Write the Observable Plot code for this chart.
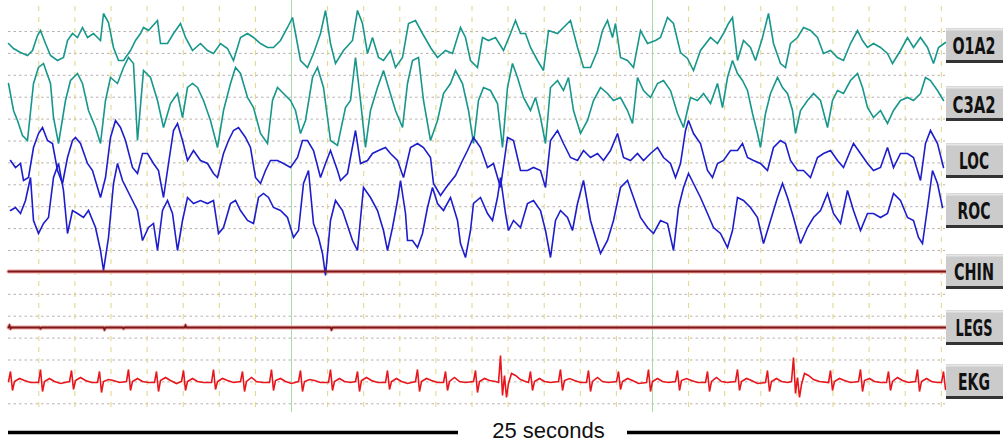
<!DOCTYPE html>
<html><head><meta charset="utf-8">
<script src="https://cdn.jsdelivr.net/npm/d3@7"></script>
<script src="https://cdn.jsdelivr.net/npm/@observablehq/plot@0.6"></script>
<style>body{margin:0;background:#fff}</style>
</head><body><div id="chart"></div>
<script>
// Channel names (top to bottom)
const channels = ["O1A2","C3A2","LOC","ROC","CHIN","LEGS","EKG"];
// Each trace: [sample index, amplitude] (negative = upward, EEG convention)
const o1a2 = [[0,-2],[5,3],[12,7],[19,10],[24,5],[29,-10],[32,-15],[37,-2],[42,10],[49,15],[55,12],[59,-5],[64,-12],[69,-8],[74,-18],[79,-8],[85,-12],[92,-5],[95,-32],[100,-23],[105,2],[110,15],[115,15],[122,5],[127,-5],[132,-12],[135,-18],[140,-15],[149,-25],[152,-2],[159,-2],[165,-12],[172,-22],[177,-8],[184,5],[192,-2],[199,5],[205,8],[212,-2],[219,3],[225,15],[232,-8],[239,-12],[245,-8],[252,-2],[259,2],[265,2],[272,-5],[279,-18],[284,-28],[287,-12],[292,15],[299,22],[305,8],[312,-12],[317,-35],[322,-2],[327,18],[335,5],[344,-5],[349,-35],[354,-22],[359,8],[364,-8],[370,12],[375,15],[382,5],[387,22],[394,12],[400,-22],[407,-25],[414,-12],[422,2],[429,12],[437,5],[444,8],[452,-18],[457,-8],[462,15],[469,22],[474,-8],[480,-5],[487,-8],[495,5],[502,-12],[507,-25],[512,-12],[517,-12],[522,2],[529,15],[535,25],[540,-15],[549,-12],[555,-18],[562,-25],[569,2],[575,22],[582,22],[589,5],[594,-15],[599,-25],[604,-8],[607,-22],[612,12],[619,15],[625,22],[632,-15],[639,-2],[647,-5],[652,-8],[659,-28],[665,-22],[672,7],[679,13],[685,25],[692,5],[702,-8],[709,-2],[715,-12],[720,-22],[724,-28],[729,15],[735,-5],[742,2],[747,15],[754,-8],[760,-32],[765,-2],[772,18],[777,22],[782,-2],[789,-8],[795,-18],[802,-15],[809,-8],[815,8],[822,5],[829,12],[835,15],[842,-2],[849,-15],[854,-5],[859,2],[865,-2],[872,2],[879,8],[884,18],[892,5],[899,-8],[905,2],[912,-8],[919,2],[925,18],[930,2],[937,-3]];
const c3a2 = [[0,-20],[5,7],[9,17],[14,32],[19,37],[25,-20],[30,-36],[35,-40],[42,-20],[45,14],[50,40],[57,-3],[62,-23],[69,-30],[74,-20],[80,7],[87,24],[92,40],[97,-3],[102,-26],[109,-20],[115,-36],[120,-46],[125,-40],[129,37],[135,-33],[142,-26],[149,-3],[155,24],[162,0],[169,-10],[174,14],[179,-16],[184,-20],[189,-16],[195,-3],[202,17],[209,44],[215,7],[222,-20],[227,-36],[232,-30],[239,-6],[245,4],[252,30],[259,40],[264,-3],[269,-16],[275,-10],[282,-3],[287,7],[292,30],[297,17],[304,-26],[309,-36],[315,-16],[322,37],[329,42],[337,4],[342,-3],[347,-46],[352,-3],[357,44],[362,7],[369,-16],[375,-33],[380,-16],[387,7],[394,24],[399,-20],[404,-43],[410,-46],[415,-3],[422,37],[429,17],[435,-10],[442,-20],[447,-33],[454,-20],[460,7],[465,40],[470,-3],[475,-16],[482,-13],[489,0],[494,44],[499,-16],[504,-40],[509,-26],[515,-6],[522,7],[527,-6],[532,14],[537,40],[542,-16],[549,-23],[555,-13],[560,-26],[565,7],[572,30],[579,17],[585,-3],[592,-16],[599,-10],[605,-3],[612,-6],[619,7],[624,20],[629,-26],[635,-13],[642,-6],[649,-20],[655,-23],[662,-13],[669,10],[675,24],[680,2],[682,-6],[689,-3],[695,-10],[702,0],[709,-20],[714,4],[719,-26],[724,-43],[729,-30],[734,-23],[739,-13],[744,10],[749,30],[752,44],[757,10],[762,-10],[769,-26],[774,-16],[779,-10],[784,7],[787,30],[792,7],[799,-3],[805,-10],[812,-3],[819,24],[824,-3],[829,-13],[835,-10],[842,-23],[849,-30],[854,-16],[859,4],[865,14],[872,7],[879,20],[885,7],[892,-3],[899,-6],[905,-3],[912,-10],[917,-26],[922,-23],[929,-13],[935,-3]];
const loc = [[2,0],[7,7],[12,3],[15,20],[20,17],[25,-13],[30,-27],[34,-33],[39,-20],[44,-17],[49,10],[54,23],[59,-3],[64,-20],[67,-23],[72,-17],[79,3],[84,10],[89,27],[92,37],[97,17],[102,-23],[107,-40],[112,-33],[117,-20],[124,7],[129,13],[134,-7],[139,-7],[145,3],[150,10],[155,37],[160,3],[165,-30],[169,-37],[174,-20],[179,0],[185,-10],[192,0],[199,3],[205,13],[209,17],[215,-7],[220,-20],[225,-30],[230,-33],[237,-23],[242,-13],[247,17],[252,23],[257,10],[262,0],[269,0],[275,3],[282,7],[289,-3],[294,-20],[299,-20],[305,-10],[312,17],[317,3],[322,-10],[329,10],[332,20],[339,13],[347,-30],[352,3],[359,0],[364,-7],[370,-10],[377,-13],[382,-7],[389,0],[395,17],[402,-13],[409,-17],[415,-13],[422,-3],[425,23],[432,35],[439,25],[447,15],[454,0],[459,-10],[465,-23],[472,-13],[479,7],[485,3],[492,27],[499,-23],[505,-20],[512,10],[519,10],[525,7],[532,10],[537,27],[542,-20],[549,-30],[555,-17],[562,-3],[569,0],[575,-10],[582,-3],[589,-7],[595,0],[602,-10],[609,-27],[615,-3],[622,0],[629,-7],[635,0],[642,-7],[649,-13],[655,-3],[662,3],[667,17],[672,3],[677,-30],[680,-40],[685,-27],[692,-17],[699,10],[704,17],[709,3],[715,0],[722,-10],[729,-10],[734,-17],[739,-3],[745,0],[752,3],[759,10],[765,-13],[772,-20],[777,-17],[782,0],[789,10],[795,10],[802,17],[809,-3],[815,-7],[822,-10],[829,0],[835,7],[842,-10],[845,-17],[852,-7],[859,3],[865,10],[872,7],[879,-13],[885,7],[892,-7],[899,-7],[905,-3],[912,20],[917,-17],[922,-30],[929,-17],[935,7]];
const roc = [[2,0],[7,-3],[12,3],[17,-10],[22,-33],[25,10],[30,23],[35,13],[40,7],[45,-33],[50,-47],[55,-20],[59,23],[64,0],[69,3],[75,7],[80,0],[87,17],[92,40],[95,60],[100,27],[105,-27],[109,-47],[114,-30],[119,-20],[124,-10],[129,0],[134,30],[140,17],[145,13],[149,40],[154,0],[159,-10],[164,3],[169,40],[174,10],[179,-13],[185,-7],[192,-10],[199,-7],[205,-10],[210,23],[215,17],[222,-7],[227,-10],[232,0],[239,10],[245,13],[250,-13],[255,-17],[260,-13],[265,-3],[272,0],[279,7],[285,27],[290,20],[295,-27],[300,-40],[305,13],[310,27],[314,43],[317,65],[322,10],[327,-10],[334,0],[339,15],[344,30],[349,40],[355,-23],[362,-13],[369,0],[375,20],[379,40],[384,17],[389,-10],[392,-30],[397,3],[399,30],[404,30],[409,37],[414,23],[419,-3],[424,-23],[429,-7],[435,0],[442,-13],[449,10],[452,33],[457,47],[462,20],[465,-7],[472,-13],[479,3],[484,10],[489,-13],[492,-33],[497,3],[500,20],[505,10],[512,17],[519,-7],[525,-10],[532,0],[537,20],[542,47],[547,10],[552,0],[559,7],[564,20],[569,-7],[575,-30],[582,10],[587,27],[592,43],[599,30],[605,10],[612,-23],[619,-30],[625,-13],[632,7],[639,17],[645,23],[652,10],[659,13],[665,40],[670,-3],[675,-23],[680,-37],[685,-27],[692,-13],[699,3],[705,17],[712,23],[719,37],[724,20],[729,-13],[735,-10],[742,-3],[749,7],[755,33],[762,10],[769,-13],[774,-27],[779,-13],[785,7],[792,33],[799,17],[805,7],[812,0],[819,-17],[825,3],[832,13],[839,-20],[845,0],[852,20],[859,3],[865,3],[872,7],[879,3],[885,-17],[892,-10],[899,7],[905,10],[910,27],[914,33],[919,-3],[924,-40],[929,-27],[934,-3]];
const chin = [[0,0],[300,0],[600,0],[937,0]];
const legs = [[0,0],[1,-2],[2,1],[3,0],[31,0],[32,1],[33,0],[95,0],[96,2],[97,0],[114,0],[115,1],[116,0],[176,0],[177,-2],[178,0],[322,0],[323,2],[324,0],[937,0]];
const ekg = [[0,0],[2,-10],[4,9],[6,0],[11,-3],[16,-1],[22,1],[30,1],[32,-12],[34,10],[36,0],[41,-3],[46,0],[52,2],[61,0],[63,-11],[65,8],[67,-1],[72,-4],[77,-1],[83,1],[89,1],[91,-10],[93,11],[95,0],[100,-2],[105,-1],[111,1],[118,0],[120,-12],[122,9],[124,0],[129,-3],[134,0],[140,1],[146,1],[148,-10],[150,10],[152,-1],[157,-4],[162,-1],[168,2],[173,0],[175,-11],[177,9],[179,0],[184,-3],[189,0],[195,1],[203,1],[205,-12],[207,8],[209,0],[214,-3],[219,-1],[225,1],[232,0],[234,-10],[236,10],[238,0],[243,-4],[248,0],[254,1],[261,1],[263,-12],[265,9],[267,-1],[272,-3],[277,0],[283,2],[290,0],[292,-11],[294,10],[296,0],[301,-2],[306,-1],[312,1],[320,1],[322,-12],[324,9],[326,0],[331,-3],[336,0],[342,1],[347,0],[349,-10],[351,10],[353,-1],[358,-4],[363,-1],[369,1],[377,1],[379,-11],[381,8],[383,0],[388,-3],[393,0],[399,2],[407,0],[409,-12],[411,10],[413,0],[418,-3],[423,-1],[429,1],[435,1],[437,-10],[439,9],[441,0],[446,-4],[451,0],[457,1],[465,0],[467,-11],[469,11],[471,0],[476,-3],[481,-1],[487,0],[490,1],[492,-26],[494,14],[496,-6],[498,16],[500,2],[503,-8],[507,-6],[512,-2],[517,0],[520,1],[522,-10],[524,9],[526,0],[531,-3],[536,0],[542,1],[550,0],[552,-12],[554,9],[556,-1],[561,-3],[566,-1],[572,1],[578,1],[580,-11],[582,10],[584,0],[589,-4],[594,0],[600,1],[608,0],[610,-10],[612,8],[614,0],[619,-3],[624,-1],[630,2],[638,1],[640,-12],[642,10],[644,0],[649,-3],[654,0],[660,1],[667,0],[669,-11],[671,9],[673,-1],[678,-3],[683,-1],[689,1],[697,1],[699,-10],[701,10],[703,0],[708,-4],[713,0],[719,1],[727,0],[729,-12],[731,9],[733,0],[738,-3],[743,-1],[749,2],[757,1],[759,-11],[761,10],[763,0],[768,-3],[773,0],[779,1],[783,0],[785,-24],[787,12],[789,-4],[791,16],[793,3],[796,-8],[800,-6],[805,-2],[811,0],[820,1],[822,-11],[824,9],[826,0],[831,-3],[836,-1],[842,1],[850,0],[852,-12],[854,10],[856,-1],[861,-3],[866,0],[872,1],[878,1],[880,-10],[882,9],[884,0],[889,-4],[894,-1],[900,1],[907,0],[909,-12],[911,10],[913,0],[918,-3],[923,0],[929,1],[933,1],[935,-10],[937,8]];
const scaleLabel = "25 seconds";

// ---- layout / style ----
const traces = {O1A2:o1a2, C3A2:c3a2, LOC:loc, ROC:roc, CHIN:chin, LEGS:legs, EKG:ekg};
const base = {O1A2:45, C3A2:103, LOC:160, ROC:210, CHIN:271, LEGS:327, EKG:381};
const colors = {O1A2:"#17978b", C3A2:"#17978b", LOC:"#1d1dcc", ROC:"#1d1dcc", CHIN:"#7a1a1a", LEGS:"#7a1a1a", EKG:"#e8161c"};
const rows = channels.flatMap(ch => traces[ch].map(([s, v]) => ({ch, s, v})));
const perSec = 36.1, greenAt = 283;
const secLines = d3.range(-7, 19).map(k => greenAt + k*perSec);
const hLines = d3.range(18).map(i => 31 + i*21.9);
const labelW = {O1A2:43, C3A2:43, LOC:30, ROC:33, CHIN:40, LEGS:37, EKG:32};
const labelX = 965.5;
const isEmg = ch => ch === "CHIN" || ch === "LEGS";

const chart = Plot.plot({
  width: 1003, height: 443,
  marginLeft: 8, marginRight: 58, marginTop: 0, marginBottom: 0,
  x: {domain: [0, 937], axis: null},
  y: {domain: [0, 443], range: [0, 443], axis: null},
  style: {background: "#fff", overflow: "visible"},
  marks: [
    Plot.ruleY(hLines, {x1: 0, x2: 937, stroke: "#b9b0b0", strokeWidth: 1, strokeDasharray: "2.5,3"}),
    Plot.ruleX(secLines.filter((d,i) => i !== 7 && i !== 17), {y1: 6, y2: 412, stroke: "#e0d585", strokeWidth: 1, strokeDasharray: "5,6"}),
    Plot.ruleX([secLines[7], secLines[17]], {y1: 0, y2: 412, stroke: "#a6dea6", strokeWidth: 1}),
    // halo under flat EMG channels
    Plot.line(rows.filter(d => isEmg(d.ch)), {x: "s", y: d => base[d.ch] + d.v, z: "ch", stroke: "#f2a3a3", strokeWidth: 4}),
    Plot.line(rows, {x: "s", y: d => base[d.ch] + d.v, z: "ch", stroke: d => colors[d.ch],
      strokeWidth: d => isEmg(d.ch) ? 1.8 : 1.6, strokeLinejoin: "miter", strokeMiterlimit: 3}),
    // channel buttons
    Plot.rect(channels, {x1: 938, x2: 1000, y1: d => base[d] - 17, y2: d => base[d] + 17, fill: "#cbcbcb"}),
    Plot.ruleY(channels, {y: d => base[d] - 16, x1: 938, x2: 1000, stroke: "#e6e6e6", strokeWidth: 2}),
    Plot.ruleY(channels, {y: d => base[d] + 16, x1: 938, x2: 1000, stroke: "#333", strokeWidth: 3}),
    Plot.text(channels, {x: labelX, y: d => base[d] + 1, text: d => d, fontSize: 23, fontWeight: "bold", fill: "#111", className: "chlabel",
      fontFamily: "'Liberation Sans Narrow','Arial Narrow','DejaVu Sans Condensed','Liberation Sans',sans-serif"}),
    // scale bar
    Plot.ruleY([432], {x1: 0, x2: 450, stroke: "#000", strokeWidth: 3.5}),
    Plot.ruleY([432], {x1: 619, x2: 992, stroke: "#000", strokeWidth: 3.5}),
    Plot.text([scaleLabel], {x: 540, y: 430, text: d => d, fontSize: 22, fill: "#111", fontFamily: "'Liberation Sans',Arial,sans-serif"})
  ]
});
document.getElementById("chart").appendChild(chart);
// condense channel labels horizontally to the width of the original narrow font
const sxScale = chart.scale("x"), syScale = chart.scale("y");
chart.querySelectorAll(".chlabel text").forEach(t => {
  const name = t.textContent.trim();
  let w = 0;
  try { w = t.getBBox().width; } catch (e) { w = 0; }
  let sx = w > 0 ? labelW[name] / w : 0.68;
  if (!isFinite(sx) || sx <= 0) sx = 0.68;
  const px = sxScale.apply(labelX), py = syScale.apply(base[name] + 1);
  t.removeAttribute("x"); t.removeAttribute("y"); t.removeAttribute("dy");
  t.setAttribute("dominant-baseline", "central");
  t.setAttribute("transform", `translate(${px},${py}) scale(${sx},1)`);
});
</script>
</body></html>
